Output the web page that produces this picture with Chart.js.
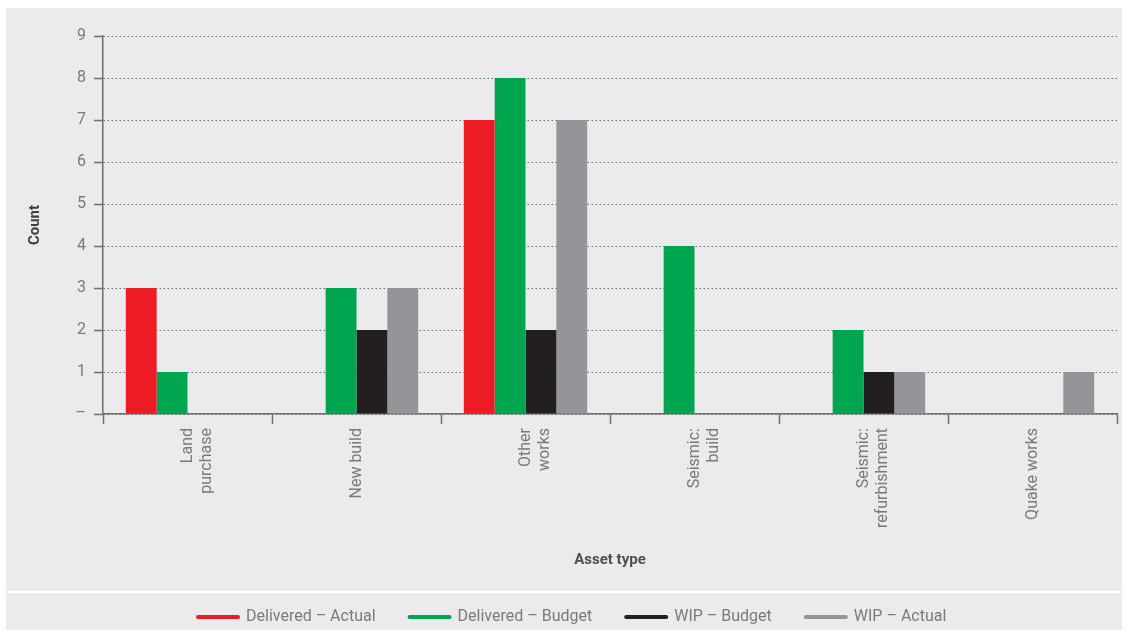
<!DOCTYPE html>
<html lang="en">
<head>
  <meta charset="UTF-8" />
  <title>Asset type count</title>
  <script src="https://cdn.jsdelivr.net/npm/chart.js"></script>
  <style>
    html, body { margin: 0; padding: 0; background: #fff; overflow: hidden; }
    .panel { position: absolute; left: 6px; top: 8px; width: 1116px; height: 627px; background: #ebebed; }
    .sep { position: absolute; left: 6px; top: 591px; width: 1116px; height: 2px; background: #fff; }
    .wrap { position: absolute; left: 0; top: 0; width: 1128px; height: 635px; }
  </style>
</head>
<body>
  <div class="panel"></div>
  <div class="sep"></div>
  <div class="wrap"><canvas id="chart"></canvas></div>
  <script>
    // dati
    const categories = [['Land', 'purchase'], 'New build', ['Other', 'works'], ['Seismic:', 'build'], ['Seismic:', 'refurbishment'], 'Quake works'];
    const seriesNames = ['Delivered – Actual', 'Delivered – Budget', 'WIP – Budget', 'WIP – Actual'];
    const deliveredActual = [3, 0, 7, 0, 0, 0];
    const deliveredBudget = [1, 3, 8, 4, 2, 0];
    const wipBudget = [0, 2, 2, 0, 1, 0];
    const wipActual = [0, 3, 7, 0, 1, 1];
    const yTicks = [0, 1, 2, 3, 4, 5, 6, 7, 8, 9];

    const colors = ['#ed1c24', '#00a54f', '#231f20', '#939598'];
    const tickColor = '#7a7a7a';
    const axisColor = '#6e6e6e';
    const font = { family: 'Roboto', size: 16 };
    const legendStartX = 198;

    // sposta la legenda per allinearla come nell'originale
    const legendShift = {
      id: 'legendShift',
      afterLayout(chart) {
        const lg = chart.legend;
        if (!lg || !lg.lineWidths) return;
        const pad = lg.options.labels.padding;
        const start = (lg.left + pad + lg.right - lg.lineWidths[0]) / 2;
        const dx = legendStartX - start;
        lg.left += dx;
        lg.right += dx;
      }
    };

    new Chart(document.getElementById('chart'), {
      type: 'bar',
      data: {
        labels: categories,
        datasets: [deliveredActual, deliveredBudget, wipBudget, wipActual].map((d, i) => ({
          label: seriesNames[i],
          data: d,
          backgroundColor: colors[i],
          borderWidth: 0,
          categoryPercentage: 0.73,
          barPercentage: 1
        }))
      },
      options: {
        responsive: true,
        maintainAspectRatio: false,
        animation: false,
        layout: { padding: { left: 6, right: 11, top: 36, bottom: 0 } },
        plugins: {
          tooltip: { enabled: false },
          legend: {
            position: 'bottom',
            labels: {
              usePointStyle: true,
              pointStyleWidth: 40,
              padding: 34,
              color: tickColor,
              font: font,
              generateLabels: chart => chart.data.datasets.map((ds, i) => ({
                text: ds.label,
                fillStyle: colors[i],
                strokeStyle: colors[i],
                lineWidth: 4,
                lineCap: 'round',
                pointStyle: 'line',
                fontColor: tickColor,
                datasetIndex: i,
                hidden: false
              }))
            }
          }
        },
        scales: {
          x: {
            grid: { drawOnChartArea: false, color: axisColor, tickLength: 10, tickWidth: 1.5 },
            border: { color: axisColor, width: 1.5 },
            ticks: { color: tickColor, font: font, minRotation: 90, maxRotation: 90, autoSkip: false, padding: 4 },
            title: { display: true, text: 'Asset type', color: '#505050', font: { family: 'Roboto', size: 15, weight: 'bold' }, padding: { top: 6, bottom: 6 } },
            afterFit(scale) { scale.height = 161; }
          },
          y: {
            min: yTicks[0],
            max: yTicks[yTicks.length - 1],
            grid: { color: '#6a6a6a', lineWidth: 1, tickLength: 9, tickWidth: 1.5, tickColor: axisColor, tickBorderDash: [] },
            border: { color: axisColor, width: 1.5, dash: [1.5, 2.5] },
            ticks: {
              stepSize: 1,
              color: tickColor,
              font: font,
              padding: 8,
              callback: v => (v === 0 ? '–' : v)
            },
            title: { display: true, text: 'Count', color: '#404040', font: { family: 'Roboto', size: 15, weight: 'bold' }, padding: { top: 20, bottom: 0 } },
            afterFit(scale) { scale.width = 97; }
          }
        }
      },
      plugins: [legendShift]
    });
  </script>
</body>
</html>
